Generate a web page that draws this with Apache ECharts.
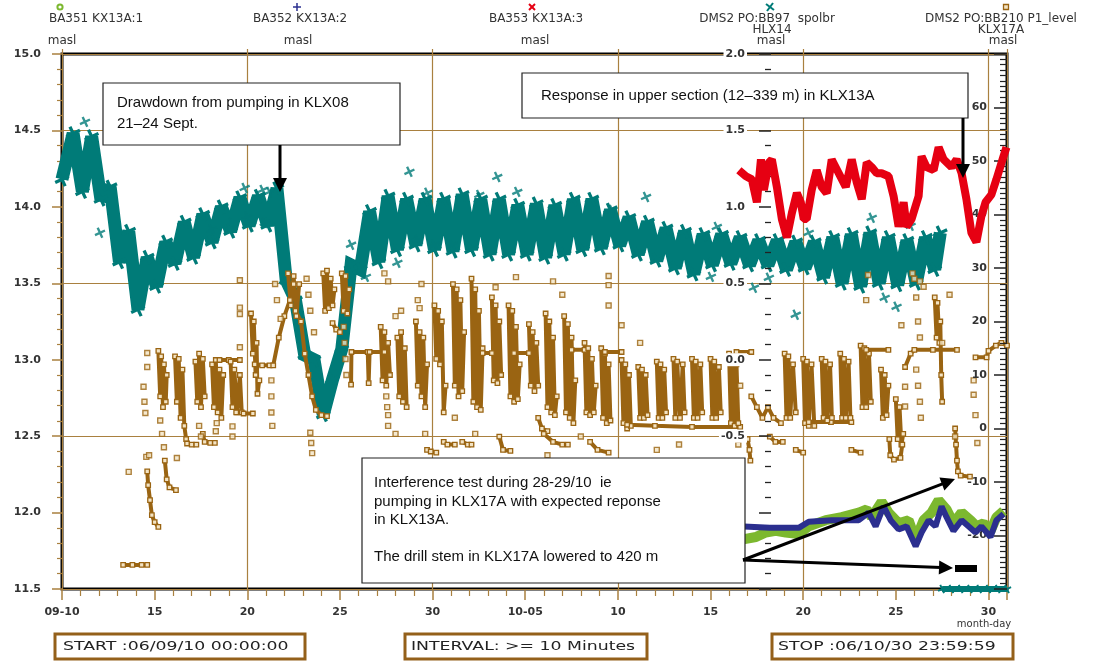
<!DOCTYPE html>
<html>
<head>
<meta charset="utf-8">
<script src="https://cdn.jsdelivr.net/npm/echarts@6/dist/echarts.min.js"></script>
<style>
  html, body { margin: 0; padding: 0; background: #fff; }
  #chart { width: 1094px; height: 661px; }
</style>
</head>
<body>
<div id="chart"></div>
<script>
// Time is given in days since 2006-09-10 00:00 (record start).
const recordStart = Date.UTC(2006, 8, 10);
const recordDays = 51;

// BA351 KX13A:1, masl
const ba351 = [[36.53,11.82],[37.45,11.84],[37.98,11.87],[38.52,11.88],[39.06,11.87],[39.76,11.86],[40.30,11.91],[41.22,11.95],[42.08,11.97],[43.00,12.00],[43.43,12.02],[43.70,11.97],[44.23,12.07],[44.61,12.00],[45.15,11.93],[45.69,11.95],[46.07,11.82],[46.50,11.95],[46.93,12.00],[47.31,12.08],[47.74,12.02],[48.11,11.93],[48.55,12.00],[49.03,11.95],[49.35,11.91],[49.73,11.93],[50.11,11.88],[50.43,11.97],[50.81,12.01]];

// BA352 KX13A:2, masl
const ba352 = [[36.53,11.91],[38.20,11.90],[39.76,11.90],[40.30,11.94],[41.54,11.95],[43.00,11.95],[43.53,12.00],[43.91,11.91],[44.34,12.04],[44.72,11.95],[45.15,11.89],[45.58,11.91],[46.07,11.78],[46.39,11.87],[46.77,11.95],[47.14,11.91],[47.47,12.04],[47.74,11.97],[48.11,11.88],[48.55,11.95],[48.92,11.91],[49.30,11.87],[49.62,11.91],[50.11,11.84],[50.43,11.95],[50.81,11.99]];

// BA353 KX13A:3, masl
const ba353 = [[36.53,14.24],[36.91,14.20],[37.23,14.18],[37.50,14.03],[37.72,14.31],[37.88,14.11],[38.15,14.29],[38.31,14.31],[38.58,14.13],[38.85,13.92],[39.12,13.80],[39.39,13.96],[39.66,14.09],[39.87,14.03],[40.03,13.92],[40.19,13.92],[40.46,14.11],[40.73,14.24],[41.00,14.13],[41.27,14.09],[41.54,14.31],[41.92,14.22],[42.30,14.13],[42.62,14.31],[42.89,14.16],[43.16,14.05],[43.43,14.29],[43.70,14.26],[43.97,14.22],[44.23,14.22],[44.61,14.20],[44.88,14.07],[45.15,13.87],[45.42,14.03],[45.58,13.87],[45.85,13.92],[46.23,14.07],[46.39,14.33],[46.66,14.26],[47.04,14.24],[47.31,14.39],[47.58,14.31],[48.01,14.26],[48.28,14.31],[48.55,14.22],[48.81,14.05],[49.08,13.83],[49.35,13.77],[49.62,13.94],[49.84,14.03],[50.16,14.08],[50.43,14.18],[50.81,14.33],[50.97,14.39]];

// DMS2 PO:BB97 spolbr, HLX14, masl (daily low / high readings)
const hlx14 = [[0.0,1.18],[0.6,1.48],[1.1,1.10],[1.6,1.46],[2.1,1.05],[2.6,1.13],[3.1,0.64],[3.6,0.84],[4.1,0.33],[4.6,0.67],[5.1,0.48],[5.6,0.77],[6.1,0.63],[6.6,0.90],[7.1,0.67],[7.6,0.95],[8.1,0.77],[8.6,1.00],[9.1,0.84],[9.6,1.06],[10.1,0.88],[10.6,1.07],[11.1,0.88],[11.6,1.12],[12.1,0.52],[12.6,0.39],[13.1,0.03],[13.6,0.00],[14.1,-0.36],[14.6,-0.13],[15.1,0.07],[15.6,0.62],[16.1,0.59],[16.6,0.97],[17.1,0.64],[17.6,1.07],[18.1,0.72],[18.6,1.05],[19.1,0.75],[19.6,1.05],[20.1,0.72],[20.6,1.05],[21.1,0.71],[21.6,1.08],[22.1,0.72],[22.6,1.05],[23.1,0.69],[23.6,1.05],[24.1,0.69],[24.6,1.01],[25.1,0.69],[25.6,1.02],[26.1,0.67],[26.6,1.01],[27.1,0.69],[27.6,1.05],[28.1,0.72],[28.6,1.05],[29.1,0.73],[29.6,0.98],[30.1,0.75],[30.6,0.93],[31.1,0.69],[31.6,0.90],[32.1,0.65],[32.6,0.86],[33.1,0.60],[33.6,0.84],[34.1,0.56],[34.6,0.82],[35.1,0.62],[35.6,0.82],[36.1,0.63],[36.6,0.80],[37.1,0.62],[37.6,0.78],[38.1,0.62],[38.6,0.78],[39.1,0.59],[39.6,0.77],[40.1,0.60],[40.6,0.77],[41.1,0.54],[41.6,0.80],[42.1,0.50],[42.6,0.82],[43.1,0.48],[43.6,0.83],[44.1,0.50],[44.6,0.80],[45.1,0.49],[45.6,0.78],[46.1,0.50],[46.6,0.80],[47.1,0.59],[47.4,0.83]];

// HLX14 single readings away from the main trace
const hlx14Stray = [[1.24,1.556],[2.05,0.83],[8.08,0.85],[9.16,0.895],[9.86,1.124],[10.0,0.935],[10.83,1.111],[10.94,0.895],[11.2,1.098],[15.6,0.752],[16.4,0.542],[18.10,0.634],[18.75,1.229],[19.18,0.784],[19.72,1.092],[20.1,0.752],[21.07,0.752],[22.52,1.078],[23.49,1.196],[24.57,1.098],[29.69,0.98],[31.52,1.065],[35.02,0.542],[35.34,0.869],[37.34,0.471],[38.15,0.536],[39.60,0.294],[40.30,0.83],[43.70,0.928],[44.40,0.405],[45.04,0.346],[45.80,0.876]];

// HLX14 after the sensor dropped to the floor of the scale
const hlx14Floor = [[47.5,-1.5],[48.0,-1.5],[48.5,-1.5],[49.0,-1.5],[49.5,-1.5],[50.0,-1.5],[50.5,-1.5],[51.0,-1.5]];

// DMS2 PO:BB210 P1_level, KLX17A, masl - continuous runs of readings
const klx17aRuns = [
  [[3.3,-25.5],[3.8,-25.5],[4.3,-25.5],[4.6,-25.5]],
  [[4.6,-8.0],[4.65,-10.6],[4.75,-13.4],[4.85,-16.2],[5.0,-17.5],[5.2,-18.4]],
  [[5.2,14.5],[5.3,6],[5.35,13.5],[5.45,4],[5.5,12],[5.6,5],[5.65,10]],
  [[5.55,-6],[5.65,-9.5],[5.8,-11],[6.15,-11.5]],
  [[6.1,13.5],[6.2,5],[6.3,13],[6.4,2],[6.5,11],[6.6,0.5],[6.7,-2],[6.75,-2.8],[7.0,-3.0],[7.25,-3.0]],
  [[7.2,12.5],[7.3,5],[7.4,14],[7.5,4],[7.6,13],[7.7,6]],
  [[7.6,-1],[7.7,-2.5],[8.0,-2.7],[8.25,-2.7]],
  [[8.1,12],[8.2,4],[8.3,12.8],[8.4,3],[8.5,11],[8.6,2],[8.7,10]],
  [[8.5,12.8],[9.0,12.8],[9.6,12.8]],
  [[9.1,12.5],[9.2,4],[9.3,11],[9.45,3],[9.6,10],[9.7,3]],
  [[9.4,3.0],[9.8,2.8],[10.3,2.8]],
  [[10.2,21.5],[10.3,14],[10.35,20],[10.45,10],[10.5,16],[10.55,6.5],[10.65,9]],
  [[10.4,12],[10.8,11.8],[11.2,11.8],[11.4,11.8],[11.7,17],[12.0,21],[12.3,24],[12.5,27]],
  [[12.2,29],[12.35,23],[12.5,28.5],[12.65,21],[12.8,27]],
  [[12.6,22],[12.9,20],[13.1,14],[13.3,10],[13.5,6],[13.7,3.5],[14.0,2.5],[14.3,2.3]],
  [[14.1,29],[14.2,22],[14.3,29.5],[14.4,22.5],[14.5,28],[14.6,23],[14.7,26]],
  [[14.6,19.7],[14.8,18.5],[15.0,18]],
  [[15.1,29],[15.2,22],[15.3,28.5],[15.4,21.5],[15.5,26]],
  [[15.6,8.2],[15.62,14.3],[16.5,14.3],[16.55,8.5],[16.6,14.3],[17.4,14.3]],
  [[17.2,19],[17.3,9],[17.4,18],[17.5,8],[17.6,16],[17.7,10]],
  [[18.1,17],[18.2,6],[18.3,18],[18.4,5],[18.5,15],[18.6,4]],
  [[19.1,20],[19.2,8],[19.3,18],[19.4,6],[19.5,17],[19.6,4],[19.7,12]],
  [[19.7,-4],[19.9,-4.3],[20.2,-4.5]],
  [[20.1,23],[20.2,13],[20.3,22],[20.4,12],[20.5,20],[20.6,3],[20.7,8]],
  [[20.6,-2.5],[20.8,-3],[21.2,-3]],
  [[21.1,27],[21.2,8],[21.3,26],[21.4,6],[21.5,24],[21.6,7],[21.7,18]],
  [[21.6,-2.5],[21.9,-3],[22.1,-3]],
  [[22.1,28],[22.2,5],[22.3,26],[22.4,4],[22.5,22],[22.6,3.5],[22.7,15]],
  [[22.7,14.1],[23.2,14.1]],
  [[23.2,24.5],[23.3,9],[23.4,23],[23.5,8.5],[23.6,20],[23.7,10]],
  [[23.6,-1.5],[23.8,-4],[24.2,-4.2]],
  [[24.1,23],[24.2,6],[24.3,22],[24.4,5],[24.5,19],[24.6,5.5],[24.7,12]],
  [[24.4,14.1],[25.2,14.1]],
  [[25.2,19.5],[25.3,8],[25.4,18],[25.5,7],[25.6,16],[25.7,8]],
  [[25.7,2],[25.9,0],[26.2,-0.5]],
  [[26.1,21.5],[26.2,4],[26.3,20],[26.4,3],[26.5,17],[26.6,2.5],[26.7,6]],
  [[26.0,-1],[26.5,-2.5],[27.0,-3],[27.3,-3]],
  [[27.1,21],[27.2,3],[27.3,19.5],[27.4,2],[27.5,17],[27.6,1],[27.7,9]],
  [[27.5,14.7],[28.2,14.7]],
  [[28.2,16],[28.3,3],[28.4,15],[28.5,2.5],[28.6,13],[28.7,3],[28.8,8]],
  [[28.5,-2.5],[28.9,-4],[29.5,-4.5]],
  [[29.1,15],[29.2,2],[29.3,14],[29.4,1],[29.5,12],[29.6,1.5]],
  [[29.3,14.3],[30.2,14.3]],
  [[30.2,12.8],[30.3,1],[30.4,12],[30.5,0],[30.6,10],[30.7,0.5]],
  [[30.5,0.7],[32.0,0.5],[34.0,0.3],[36.6,0.3]],
  [[31.1,11.5],[31.2,2],[31.3,11],[31.4,2],[31.5,10],[31.6,2.5]],
  [[32.1,12.5],[32.2,2],[32.3,12],[32.4,2],[32.5,11],[32.6,3]],
  [[33.0,13],[33.1,2],[33.2,12.5],[33.35,2],[33.5,12],[33.6,3]],
  [[34.0,13],[34.1,2],[34.2,12.5],[34.3,2],[34.45,12],[34.55,3]],
  [[35.0,13],[35.1,2],[35.2,12.5],[35.3,2],[35.45,11.5],[35.55,3]],
  [[36.0,14],[36.1,1],[36.2,13.5],[36.3,0.5],[36.4,12],[36.5,1]],
  [[36.4,14.3],[37.2,14.3]],
  [[37.2,6],[37.5,4],[37.8,2],[38.1,4],[38.4,2],[38.8,1]],
  [[37.0,-2],[37.1,-4],[37.15,-6]],
  [[38.2,-1.5],[38.5,-2.5],[38.9,-2.5]],
  [[39.0,14],[39.1,2],[39.2,13.5],[39.3,2],[39.45,12],[39.6,3]],
  [[39.6,-4],[40.0,-4.5]],
  [[40.0,13],[40.1,1],[40.2,12.5],[40.3,0.5],[40.45,12],[40.6,0.5]],
  [[40.3,1.2],[41.5,1.2],[42.6,1.2]],
  [[41.0,13],[41.1,2],[41.2,12.5],[41.3,1.5],[41.45,12],[41.55,2]],
  [[42.0,14],[42.1,2],[42.2,13],[42.3,2],[42.45,12.5],[42.55,2]],
  [[42.6,-4],[43.1,-4.5]],
  [[43.1,15.5],[43.2,4],[43.3,15],[43.4,4],[43.55,14],[43.65,5]],
  [[43.4,14.7],[44.6,14.7]],
  [[44.2,11],[44.3,2],[44.4,10],[44.5,2.5],[44.6,8]],
  [[45.0,5.5],[45.1,-2],[45.2,4],[45.3,-3],[45.4,-1]],
  [[44.65,-2],[44.7,-5],[44.9,-5.8],[45.25,-5.5],[45.35,-3]],
  [[45.5,11.5],[45.8,14],[46.0,14.7],[47.0,14.7],[48.3,14.7]],
  [[47.1,24.5],[47.2,17],[47.25,23.5],[47.35,16],[47.4,20],[47.45,10],[47.5,5]],
  [[48.2,0],[48.25,-3],[48.3,-6],[48.35,-8],[48.5,-8.8],[49.0,-9]],
  [[49.3,13.3],[49.9,13.3],[50.0,14.5],[50.4,15.5],[50.7,16],[51.0,15.5]]
];

// KLX17A single readings between the runs
const klx17aSpots = [[3.6,-8.1],[4.4,7.8],[4.45,5.0],[4.5,2.9],[4.6,14.1],[4.6,11.5],[4.55,-5.3],[4.7,-5.0],[5.3,1.5],[5.4,-1],[5.5,-3.5],[6.2,-5.5],[7.4,0.5],[7.5,-1.5],[8.3,-0.5],[8.35,1],[9.6,27.7],[9.6,22.6],[9.6,21.4],[9.6,15.2],[9.2,0.4],[9.2,-1.5],[11.3,9],[11.3,6],[11.3,3],[11.35,0.5],[11.5,27],[11.6,24],[11.8,20.5],[13.2,28],[13.3,25],[13.4,22],[13.6,18],[13.4,-0.8],[13.45,-2.7],[13.5,-4.6],[15.2,19],[15.25,16],[15.3,13],[15.35,10],[17.4,29],[17.6,27.5],[17.5,6],[17.55,4],[17.6,2.5],[17.6,0.5],[18.0,-1],[18.0,21],[18.3,22],[19.2,24],[19.3,22.5],[19.4,27],[19.6,-1],[21.2,2],[22.3,-1],[23.4,26.4],[24.5,28.3],[26.2,-5],[26.5,27.5],[27.0,25],[28.0,-1.5],[29.5,28.5],[29.5,26.8],[29.5,23],[30.2,19.3],[31.2,16],[32.1,-4],[33.3,-3],[36.5,-3],[36.6,8],[43.4,24],[43.5,28.7],[45.3,19.3],[45.5,7.8],[45.5,4.1],[45.9,29],[46.0,28],[46.3,27.5],[46.5,26.5],[46.1,24.5],[46.2,20],[46.3,17],[46.1,11],[46.2,8],[46.3,5],[46.35,2],[47.5,16],[47.9,25],[48.2,-1.5],[49.2,9],[49.2,6.3],[49.3,2.5],[49.4,-2.7]];

// Header entries: [marker kind, colour, name, second line, marker x, text centre x, unit centre x]
const headerEntries = [
  ['ring',  '#7cb82f', 'BA351 KX13A:1', '', 60, 96, 62],
  ['plus',  '#2b2f8f', 'BA352 KX13A:2', '', 297, 300, 298],
  ['cross', '#e60012', 'BA353 KX13A:3', '', 532, 536, 535],
  ['star',  '#007b78', 'DMS2 PO:BB97  spolbr', 'HLX14', 770, 767, 771],
  ['square','#9a6412', 'DMS2 PO:BB210 P1_level', 'KLX17A', 1006, 1001, 1003]
];

const footerTexts = ['START :06/09/10 00:00:00', 'INTERVAL: >= 10 Minutes', 'STOP :06/10/30 23:59:59'];

const notes = {
  drawdown: ['Drawdown from pumping in KLX08', '21\u201324 Sept.'],
  response: ['Response in upper section (12\u2013339 m) in KLX13A'],
  interference: ['Interference test during 28-29/10  ie', 'pumping in KLX17A with expected reponse', 'in KLX13A.', '', 'The drill stem in KLX17A lowered to 420 m']
};

// ---- styling ----
const teal = '#007b78', brown = '#9a6412', red = '#e60012', green = '#7cb82f', navy = '#2b2f8f';
const ruleBrown = '#a9803f';
const tickFont = { fontFamily: 'DejaVu Sans', fontSize: 11, fontWeight: 'bold', color: '#333' };
const starSymbol = 'path://M-6,-1.3L6,-1.3L6,1.3L-6,1.3Z M-1.3,-6L1.3,-6L1.3,6L-1.3,6Z';

function joinRuns(runs) {
  const out = [];
  runs.forEach((run, i) => { if (i) out.push(['-', '-']); run.forEach(p => out.push(p)); });
  return out;
}

function dayLabel(v) {
  if (v > recordDays - 0.5) return '';
  const d = new Date(recordStart + v * 86400000);
  const mm = String(d.getUTCMonth() + 1).padStart(2, '0');
  const dd = String(d.getUTCDate()).padStart(2, '0');
  return (v === 0 || d.getUTCDate() <= 5) ? mm + '-' + dd : dd;
}

function arrow(x1, y1, x2, y2) {
  const len = Math.hypot(x2 - x1, y2 - y1), ux = (x2 - x1) / len, uy = (y2 - y1) / len;
  const hl = 14, hw = 7, bx = x2 - ux * hl, by = y2 - uy * hl;
  return [
    { type: 'line', z: 60, shape: { x1, y1, x2: bx + ux * 2, y2: by + uy * 2 }, style: { stroke: '#000', lineWidth: 3 } },
    { type: 'polygon', z: 60, shape: { points: [[x2, y2], [bx - uy * hw, by + ux * hw], [bx + uy * hw, by - ux * hw]] }, style: { fill: '#000' } }
  ];
}

function noteBox(x, y, w, h, lines, tx, ty, lh) {
  const els = [{ type: 'rect', z: 55, shape: { x, y, width: w, height: h }, style: { fill: '#fff', stroke: '#222', lineWidth: 1.2 } }];
  lines.forEach((t, i) => {
    if (!t) return;
    els.push({ type: 'text', z: 56, x: tx, y: ty + i * lh, style: { text: t, font: '15px "Liberation Sans", Arial', fill: '#111', align: 'left', verticalAlign: 'middle' } });
  });
  return els;
}

function headerMarker(kind, color, x, y) {
  switch (kind) {
    case 'ring': return [{ type: 'circle', shape: { cx: x, cy: y, r: 2.6 }, style: { fill: '#fff', stroke: color, lineWidth: 2 } }];
    case 'plus': return [
      { type: 'line', shape: { x1: x - 4, y1: y, x2: x + 4, y2: y }, style: { stroke: color, lineWidth: 1.5 } },
      { type: 'line', shape: { x1: x, y1: y - 4, x2: x, y2: y + 4 }, style: { stroke: color, lineWidth: 1.5 } }];
    case 'cross': return [
      { type: 'line', shape: { x1: x - 3, y1: y - 3, x2: x + 3, y2: y + 3 }, style: { stroke: color, lineWidth: 2 } },
      { type: 'line', shape: { x1: x + 3, y1: y - 3, x2: x - 3, y2: y + 3 }, style: { stroke: color, lineWidth: 2 } }];
    case 'star': return [
      { type: 'line', shape: { x1: x - 4, y1: y - 3, x2: x + 4, y2: y + 3 }, style: { stroke: color, lineWidth: 2 } },
      { type: 'line', shape: { x1: x + 3, y1: y - 4, x2: x - 3, y2: y + 4 }, style: { stroke: color, lineWidth: 2 } }];
    default: return [{ type: 'rect', shape: { x: x - 2.5, y: y - 2.5, width: 5, height: 5 }, style: { fill: '#f3e3c3', stroke: color, lineWidth: 1.3 } }];
  }
}

const graphics = [];
headerEntries.forEach(([kind, color, name, second, mx, cx, ux]) => {
  headerMarker(kind, color, mx, 7).forEach(e => graphics.push(e));
  graphics.push({ type: 'text', x: cx, y: 19, style: { text: name, font: '12px "DejaVu Sans"', fill: '#333', align: 'center', verticalAlign: 'middle' } });
  if (second) graphics.push({ type: 'text', x: cx + (kind === 'star' ? 5 : 0), y: 30, style: { text: second, font: '12px "DejaVu Sans"', fill: '#333', align: 'center', verticalAlign: 'middle' } });
  graphics.push({ type: 'text', x: ux, y: 41, style: { text: 'masl', font: '12px "DejaVu Sans"', fill: '#333', align: 'center', verticalAlign: 'middle' } });
});
graphics.push({ type: 'text', x: 984, y: 624, style: { text: 'month-day', font: '10px "DejaVu Sans"', fill: '#333', align: 'center', verticalAlign: 'middle' } });

// footer boxes
[[55, 250, 63], [405, 242, 411], [772, 241, 778]].forEach(([bx, bw, tx], i) => {
  graphics.push({ type: 'rect', shape: { x: bx, y: 634, width: bw, height: 25 }, style: { fill: '#fff', stroke: '#94601a', lineWidth: 3 } });
  graphics.push({ type: 'text', x: tx, y: 647, scaleX: 1.33, style: { text: footerTexts[i], font: '13px "DejaVu Sans"', fill: '#222', align: 'left', verticalAlign: 'middle' } });
});

// annotation boxes and arrows
noteBox(103, 83, 297, 62, notes.drawdown, 117, 103, 21).forEach(e => graphics.push(e));
noteBox(522, 73, 446, 45, notes.response, 541, 96, 20).forEach(e => graphics.push(e));
noteBox(362, 458, 383, 125, notes.interference, 374, 483, 18.5).forEach(e => graphics.push(e));
arrow(280, 145, 280, 192).forEach(e => graphics.push(e));
arrow(963, 118, 963, 178).forEach(e => graphics.push(e));
arrow(743, 560, 955, 479).forEach(e => graphics.push(e));
arrow(743, 560, 953, 568).forEach(e => graphics.push(e));
graphics.push({ type: 'rect', z: 60, shape: { x: 955, y: 565, width: 22, height: 7 }, style: { fill: '#000' } });

const chart = echarts.init(document.getElementById('chart'), null, { renderer: 'canvas' });

chart.setOption({
  animation: false,
  backgroundColor: '#fff',
  grid: { left: 62, top: 54, width: 945, height: 535, show: true, borderColor: '#000', borderWidth: 3, backgroundColor: 'transparent' },
  xAxis: [
    {
      type: 'value', min: 0, max: recordDays, interval: 5, position: 'bottom',
      axisLine: { show: false, onZero: false },
      axisTick: { show: true, length: 11, lineStyle: { color: ruleBrown, width: 1.5 } },
      minorTick: { show: true, splitNumber: 5, length: 7, lineStyle: { color: ruleBrown, width: 1.2 } },
      axisLabel: Object.assign({ margin: 18, formatter: dayLabel, showMaxLabel: false }, tickFont),
      splitLine: { show: false }
    },
    {
      type: 'value', min: 0, max: recordDays, interval: 10, position: 'top',
      axisLine: { show: false, onZero: false },
      axisTick: { show: true, length: 5, lineStyle: { color: ruleBrown, width: 1.2 } },
      axisLabel: { show: false },
      splitLine: { show: true, lineStyle: { color: ruleBrown, width: 1.2 } }
    }
  ],
  yAxis: [
    {
      type: 'value', min: 11.5, max: 15, interval: 0.5, position: 'left',
      axisLine: { show: false, onZero: false },
      axisTick: { show: true, length: 10, lineStyle: { color: ruleBrown, width: 1.5 } },
      minorTick: { show: true, splitNumber: 5, length: 5, lineStyle: { color: ruleBrown, width: 1.2 } },
      axisLabel: Object.assign({ margin: 21, formatter: v => v.toFixed(1) }, tickFont),
      splitLine: { show: false }
    },
    {
      type: 'value', min: 11.5, max: 15, interval: 1, position: 'left',
      axisLine: { show: false, onZero: false }, axisTick: { show: false }, axisLabel: { show: false },
      splitLine: { show: true, lineStyle: { color: ruleBrown, width: 1.2 } }
    },
    {
      type: 'value', min: -1.5, max: 2.0, interval: 0.5, position: 'right', offset: -236, z: 5,
      axisLine: { show: false, onZero: false },
      axisTick: { show: true, inside: true, length: 12, lineStyle: { color: '#222', width: 1.5 } },
      minorTick: { show: true, splitNumber: 5, length: 6, lineStyle: { color: '#222', width: 1.3 } },
      axisLabel: Object.assign({ inside: true, margin: 24, showMinLabel: false, formatter: v => v.toFixed(1), backgroundColor: '#fff', padding: [1, 2] }, tickFont),
      splitLine: { show: false }
    },
    {
      type: 'value', min: -30, max: 70, interval: 10, position: 'right', z: 5,
      axisLine: { show: false, onZero: false },
      axisTick: { show: true, inside: true, length: 13, lineStyle: { color: '#222', width: 1.5 } },
      minorTick: { show: true, splitNumber: 10, length: 7, lineStyle: { color: '#222', width: 1.2 } },
      axisLabel: Object.assign({ inside: true, margin: 20, showMinLabel: false, showMaxLabel: false }, tickFont),
      splitLine: { show: false }
    }
  ],
  series: [
    {
      name: 'HLX14', type: 'line', xAxisIndex: 0, yAxisIndex: 2, data: hlx14, z: 3, silent: true,
      lineStyle: { color: teal, width: 13, join: 'miter', miterLimit: 2 }, symbol: starSymbol, symbolSize: 15, symbolRotate: 25,
      itemStyle: { color: teal }, emphasis: { disabled: true }
    },
    {
      name: 'HLX14 single', type: 'scatter', xAxisIndex: 0, yAxisIndex: 2, data: hlx14Stray, z: 3, silent: true,
      symbol: starSymbol, symbolSize: 11, symbolRotate: 25, itemStyle: { color: teal }
    },
    {
      name: 'HLX14 floor', type: 'line', xAxisIndex: 0, yAxisIndex: 2, data: hlx14Floor, z: 3, silent: true, clip: false,
      lineStyle: { color: teal, width: 6 }, symbol: starSymbol, symbolSize: 9, symbolRotate: 25, itemStyle: { color: teal }
    },
    {
      name: 'KLX17A', type: 'line', xAxisIndex: 0, yAxisIndex: 3, data: joinRuns(klx17aRuns), z: 4, silent: true,
      connectNulls: false, lineStyle: { color: brown, width: 4 },
      symbol: 'rect', symbolSize: 4.5, showSymbol: true, itemStyle: { color: '#f3e3c3', borderColor: brown, borderWidth: 1.3 },
      emphasis: { disabled: true }
    },
    {
      name: 'KLX17A single', type: 'scatter', xAxisIndex: 0, yAxisIndex: 3, data: klx17aSpots, z: 4, silent: true,
      symbol: 'rect', symbolSize: 5, itemStyle: { color: '#f3e3c3', borderColor: brown, borderWidth: 1.4 }
    },
    {
      name: 'BA353', type: 'line', xAxisIndex: 0, yAxisIndex: 0, data: ba353, z: 5, silent: true,
      showSymbol: false, lineStyle: { color: red, width: 8 }
    },
    {
      name: 'BA351', type: 'line', xAxisIndex: 0, yAxisIndex: 0, data: ba351, z: 5, silent: true,
      showSymbol: false, lineStyle: { color: green, width: 10 }
    },
    {
      name: 'BA352', type: 'line', xAxisIndex: 0, yAxisIndex: 0, data: ba352, z: 6, silent: true,
      showSymbol: false, lineStyle: { color: navy, width: 6 }
    }
  ],
  graphic: { elements: graphics }
});
</script>
</body>
</html>
